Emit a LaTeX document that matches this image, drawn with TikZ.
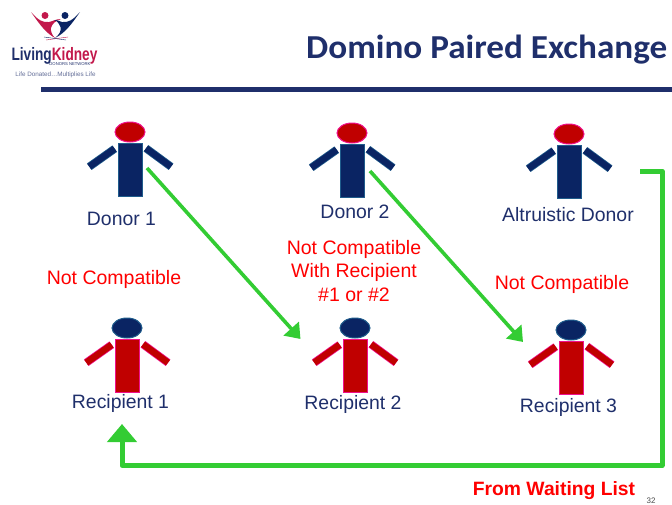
\documentclass[tikz,border=0pt]{standalone}
\usepackage{fontspec}
\setmainfont{Liberation Sans}
\newfontfamily\titlefont{Carlito}
\usetikzlibrary{arrows.meta}
\definecolor{navy}{HTML}{0A2463}
\definecolor{navyedge}{HTML}{1F5C8C}
\definecolor{crim}{HTML}{C00000}
\definecolor{pinkedge}{HTML}{F0108C}
\definecolor{txtnavy}{HTML}{1F2F6B}
\definecolor{grn}{HTML}{33CC33}
\definecolor{logored}{HTML}{C2184B}
\tikzset{
  label text/.style={font=\fontsize{19.4}{22}\selectfont, text=txtnavy, inner sep=0pt, anchor=base},
  red text/.style={font=\fontsize{19.5}{23.5}\selectfont, text=red, inner sep=0pt, align=center},
  thin green/.style={draw=grn, line width=3.6pt, -{Triangle[length=14pt,width=20pt]}},
  thick green/.style={draw=grn, line width=5pt, line join=round, -{Triangle[length=18pt,width=29pt]}},
  pics/person/.style n args={4}{code={
    \draw[#3, line width=1pt, fill=#4] (0,-11) ellipse [x radius=15, y radius=10];
    \draw[#2, line width=1pt, fill=#1] (-12,0) rectangle (12,53);
    \draw[#2, line width=8pt] (-15.3,5.7) -- (-40.7,23.7);
    \draw[#1, line width=6.5pt] (-15.3,5.7) -- (-40.7,23.7);
    \draw[#2, line width=8pt] (16,5.3) -- (41,23.7);
    \draw[#1, line width=6.5pt] (16,5.3) -- (41,23.7);
  }}
}
\begin{document}
\begin{tikzpicture}[x=1pt,y=-1pt]
\useasboundingbox (0,0) rectangle (672,504);
% logo
\draw[logored, line width=.4pt] (46,40) -- (68,37);
\draw[navy, line width=.4pt] (44,37) -- (66,40);
\fill[logored] (31,12) .. controls (38,20) and (43,23) .. (49,22) .. controls (52,21.5) and (56,19) .. (61,19) .. controls (55,21) and (52,24) .. (51,28) .. controls (50.5,31) and (52,35) .. (55,38) .. controls (46,33) and (40,25) .. (31,12);
\fill[navy] (80,12) .. controls (73,20) and (68,23) .. (62,22) .. controls (60,21.5) and (58,20) .. (54,20) .. controls (58,21) and (59,24) .. (60.5,27) .. controls (61.5,31) and (59,35) .. (55,38) .. controls (65,33) and (71,25) .. (80,12);
\fill[logored] (45,15.5) circle [radius=3.5];
\fill[navy] (65,15.5) circle [radius=3.5];
\node[inner sep=0pt, anchor=base, font=\bfseries\fontsize{18}{20}\selectfont] (logoname) at (54.5,60) {\raisebox{0pt}[\height][0pt]{\scalebox{0.76}[1]{\textcolor{txtnavy}{Living}\textcolor{logored}{Kidney}}}};
\node[inner sep=0pt, font=\fontsize{4.2}{5}\selectfont, text=txtnavy] (logosub) at (70,64.5) {DONORS NETWORK};
\node[inner sep=0pt, font=\fontsize{6.3}{7}\selectfont, text=txtnavy!70] (logotag) at (55.5,75) {Life Donated\dots Multiplies Life};
% title and rule
\node[inner sep=0pt, anchor=base east, font=\titlefont\bfseries\fontsize{33.5}{36}\selectfont, text=txtnavy] (title) at (667.5,58) {\scalebox{1.05}[1]{Domino Paired Exchange}};
\fill[txtnavy] (41,87) rectangle (672,92);
% people
\pic at (130,143) {person={navy}{navyedge}{pinkedge}{crim}};
\pic at (352,144) {person={navy}{navyedge}{pinkedge}{crim}};
\pic at (569,145) {person={navy}{navyedge}{pinkedge}{crim}};
\pic at (127,339) {person={crim}{pinkedge}{navyedge}{navy}};
\pic at (355,339) {person={crim}{pinkedge}{navyedge}{navy}};
\pic at (571,341) {person={crim}{pinkedge}{navyedge}{navy}};
% labels
\node[label text] (d1) at (121.5,225) {Donor 1};
\node[label text] (d2) at (355,218) {Donor 2};
\node[label text] (d3) at (568,221) {Altruistic Donor};
\node[label text] (r1) at (120.5,408) {Recipient 1};
\node[label text] (r2) at (353,409) {Recipient 2};
\node[label text] (r3) at (568.5,412) {Recipient 3};
\node[red text] (nc1) at (114,279) {Not Compatible};
\node[red text] (nc2) at (354,271) {Not Compatible\\With Recipient\\\#1 or \#2};
\node[red text] (nc3) at (562,284) {Not Compatible};
\node[inner sep=0pt, anchor=base, font=\bfseries\fontsize{19.3}{22}\selectfont, text=red] (wait) at (554,495) {From Waiting List};
\node[inner sep=0pt, font=\fontsize{8}{9}\selectfont, text=black!70, anchor=base] (num) at (651,503) {32};
% connectors
\coordinate (a1s) at (147,168);
\coordinate (a1e) at (300.5,339);
\coordinate (a2s) at (370,171);
\coordinate (a2e) at (523,342);
\coordinate (a3s) at (640,171);
\coordinate (a3c) at (662,171);
\coordinate (a3d) at (662,465.5);
\coordinate (a3f) at (122,465.5);
\coordinate (a3e) at (122,424);
\draw[thin green] (a1s) -- (a1e);
\draw[thin green] (a2s) -- (a2e);
\draw[thick green] (a3s) -- (a3c) -- (a3d) -- (a3f) -- (a3e);
\end{tikzpicture}
\end{document}
